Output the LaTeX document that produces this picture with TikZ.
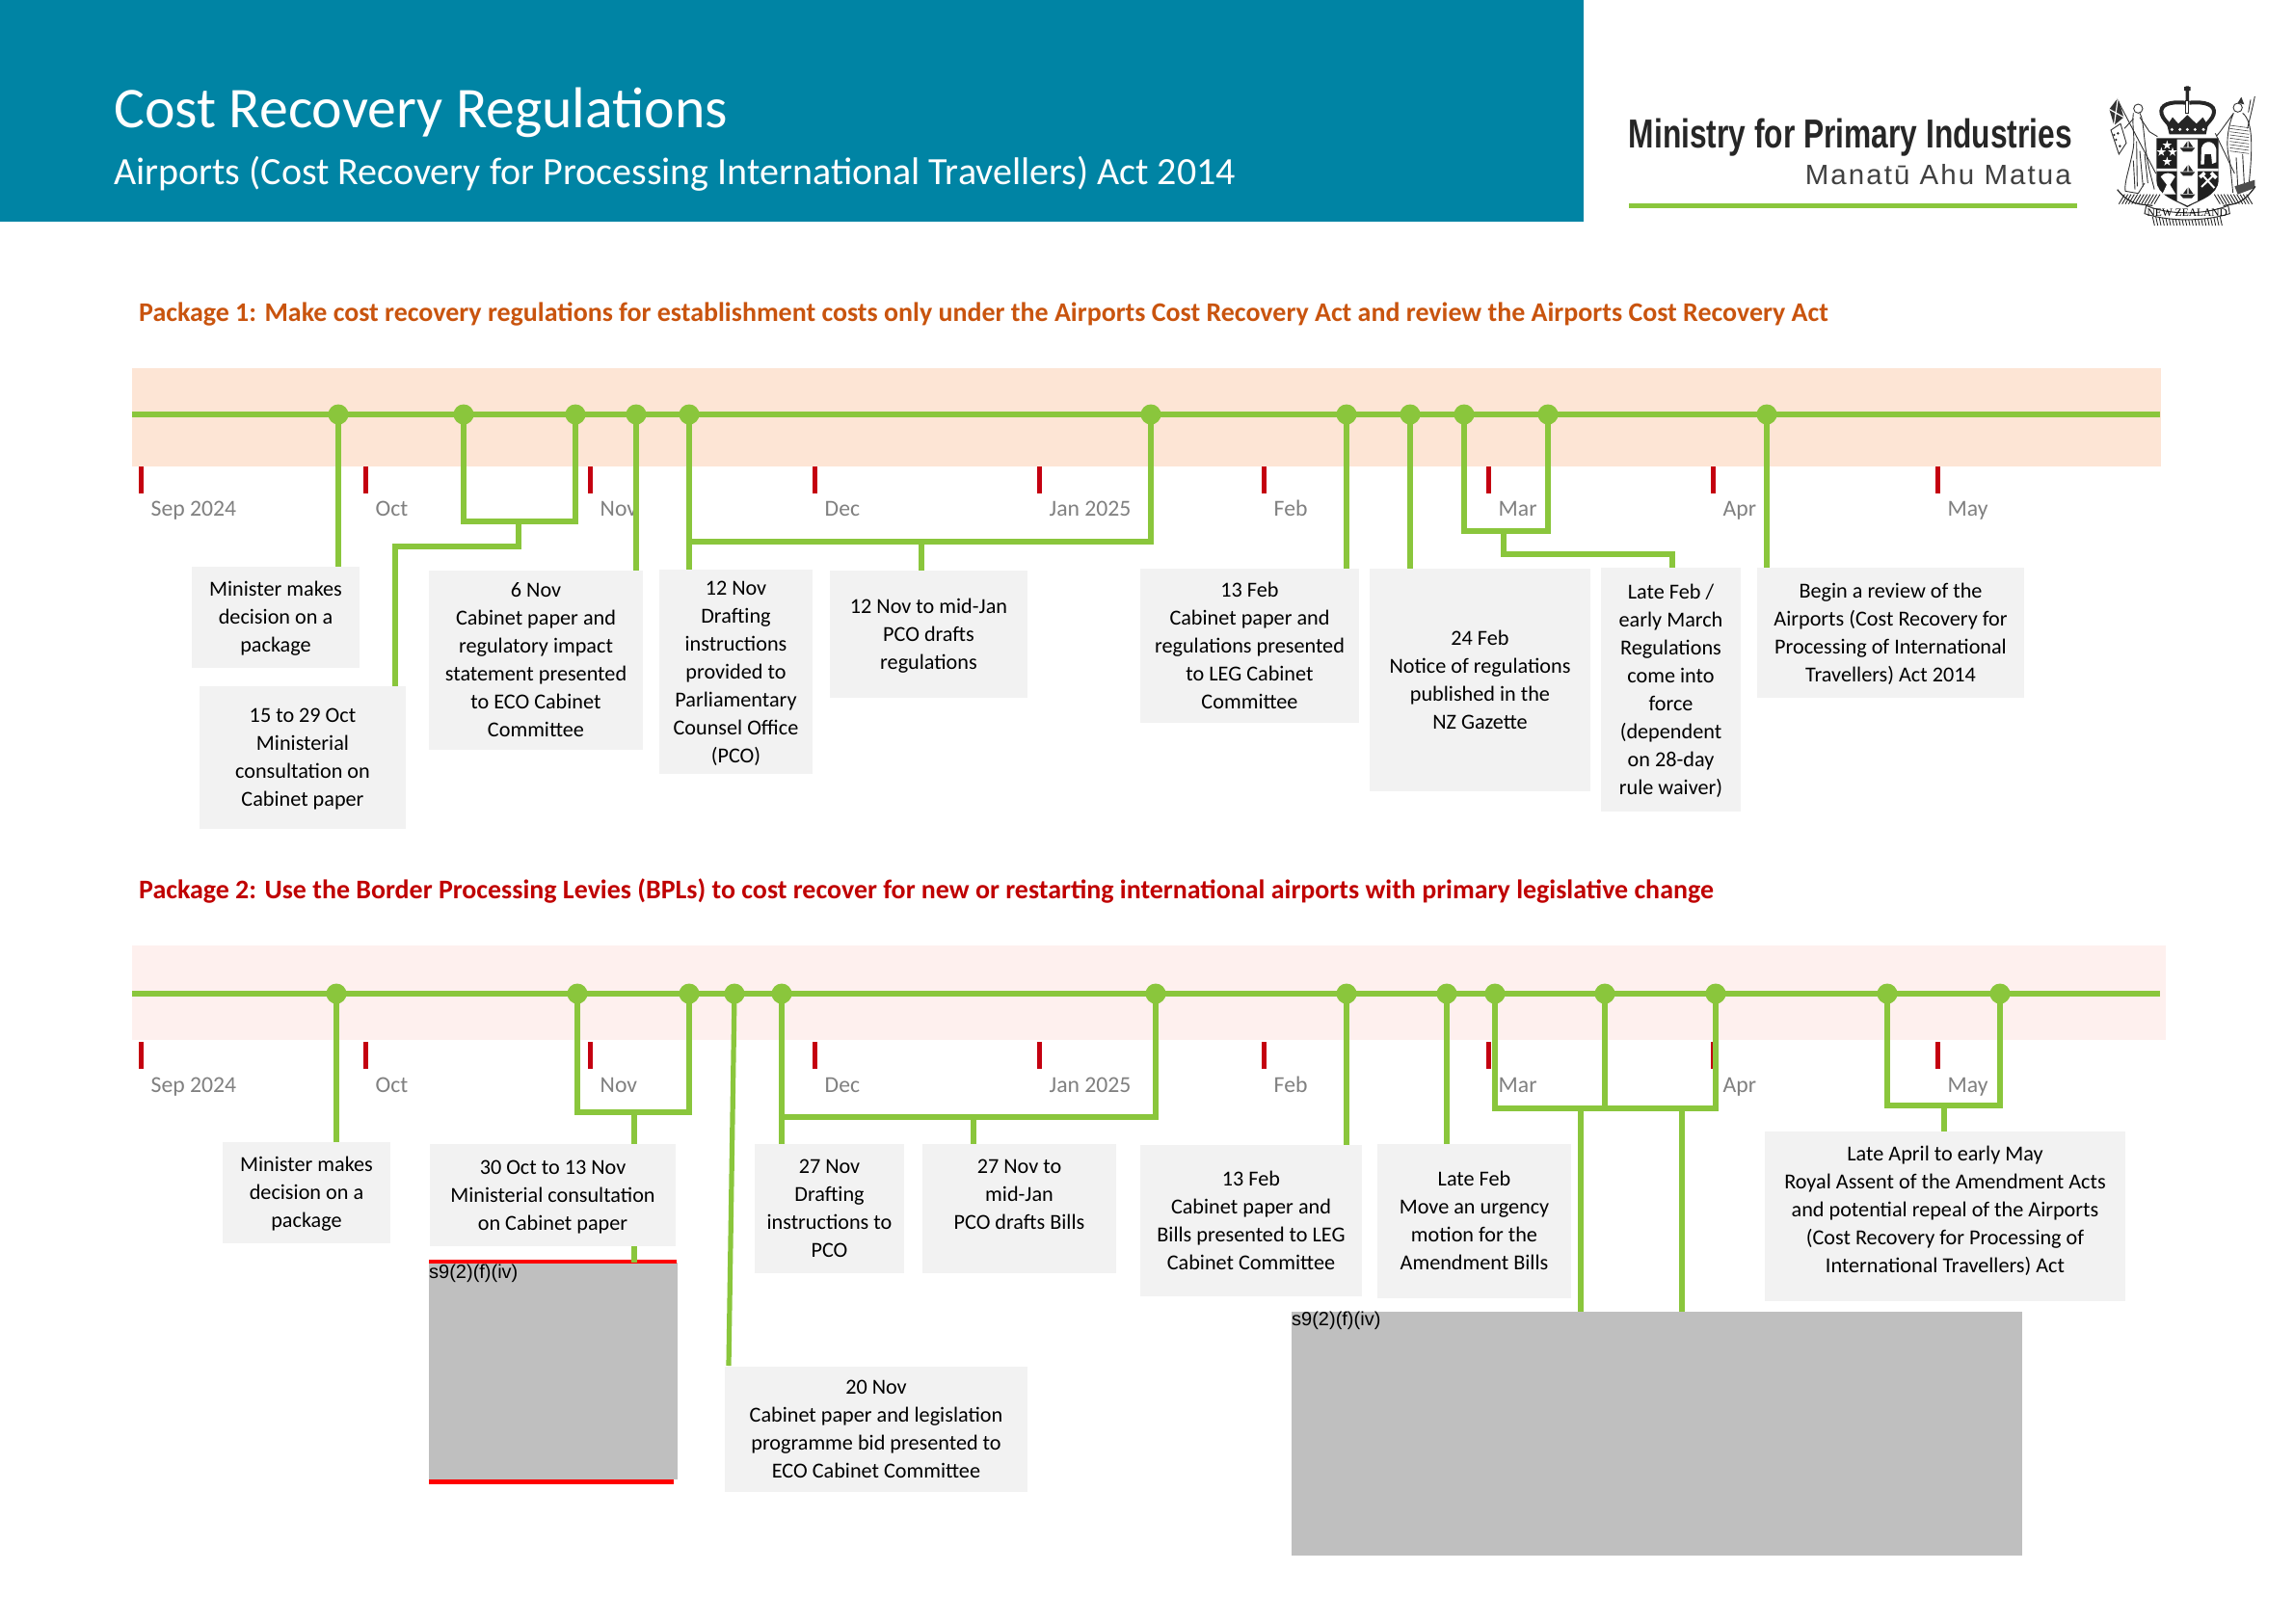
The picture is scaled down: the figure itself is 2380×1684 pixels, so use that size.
\documentclass[tikz,border=0pt]{standalone}
\usepackage{fontspec}
\usepackage{graphicx}
\setmainfont{Carlito}
\newfontfamily\arialfont{Liberation Sans}
\newfontfamily\manafont[LetterSpace=7]{Liberation Sans}
\newfontfamily\arimsfont{Liberation Serif}
\definecolor{teal}{HTML}{0084A4}
\definecolor{lime}{HTML}{8AC63C}
\definecolor{boxg}{HTML}{F2F2F2}
\definecolor{bandA}{HTML}{FDE5D5}
\definecolor{bandB}{HTML}{FEF0EE}
\definecolor{tick}{HTML}{C40010}
\definecolor{month}{HTML}{808080}
\definecolor{pkgA}{HTML}{C9540E}
\definecolor{pkgB}{HTML}{C00000}
\definecolor{redact}{HTML}{BFBFBF}
\tikzset{
  boxn/.style={fill=boxg,inner sep=0pt,align=center,text=black,font=\fontsize{22.2}{29}\selectfont},
  dotn/.style={circle,fill=lime,inner sep=0pt,minimum size=21pt},
  conn/.style={draw=lime,line width=5.2pt,line join=miter},
  tline/.style={draw=lime,line width=6.5pt},
  monthn/.style={anchor=base west,inner sep=0pt,text=month,font=\fontsize{23.7}{24}\selectfont},
  tickn/.style={fill=tick,inner sep=0pt,minimum width=5.5pt,minimum height=28pt},
  pkg/.style={anchor=base west,inner sep=0pt,font=\fontsize{27.95}{30}\selectfont\bfseries},
  redn/.style={fill=redact,inner sep=0pt},
  sect/.style={anchor=north west,inner sep=0pt,text=black,font=\arialfont\fontsize{20}{22}\selectfont},
  arm/.style={draw=black!80,line width=0.9pt,fill=none},
  armf/.style={fill=black!85,draw=none}
}
\newcommand{\gbox}[6]{%
  \pgfmathsetmacro\bw{#4-#2}\pgfmathsetmacro\bh{#5-#3}%
  \node[boxn,minimum width=\bw pt,minimum height=\bh pt] (#1) at ({(#2+#4)/2},{(#3+#5)/2}) {\rule{0pt}{23.3pt}#6\strut};}
\newcommand{\rbox}[5]{%
  \pgfmathsetmacro\bw{#4-#2}\pgfmathsetmacro\bh{#5-#3}%
  \node[redn,minimum width=\bw pt,minimum height=\bh pt] (#1) at ({(#2+#4)/2},{(#3+#5)/2}) {};}
\newcommand{\starp}[3]{\fill[white] (#1,#2) +(270:#3) -- +(54:#3) -- +(198:#3) -- +(342:#3) -- +(126:#3) -- cycle;}
\begin{document}
\begin{tikzpicture}[x=1pt,y=-1pt]
\useasboundingbox (0,0) rectangle (2380,1684);
\fill[white] (0,0) rectangle (2380,1684);
% header
\fill[teal] (0,0) rectangle (1643,230);
\node[anchor=base west,inner sep=0pt,text=white,font=\fontsize{59.8}{60}\selectfont] (title) at (118,132) {Cost Recovery Regulations};
\node[anchor=base west,inner sep=0pt,text=white,font=\fontsize{40}{42}\selectfont] (subtitle) at (118,191) {Airports (Cost Recovery for Processing International Travellers) Act 2014};
% logo
\node[anchor=east,inner sep=0pt,text=black!85] (mpi) at (2150,143) {\resizebox{460pt}{\height}{\arialfont\bfseries\fontsize{42}{44}\selectfont Ministry for Primary Industries}};
\node[anchor=east,inner sep=0pt,text=black!75] (mana) at (2149,181) {\resizebox{276pt}{\height}{\manafont\fontsize{29}{30}\selectfont Manatū Ahu Matua}};
\coordinate (lgA) at (1690,213); \coordinate (lgB) at (2155,213);
\draw[draw=lime,line width=5pt] (lgA) -- (lgB);
% coat of arms
\begin{scope}[shift={(2180,80)},x=0.3333pt,y=-0.3333pt]
  % crown
  \fill[black!85] (258,30) rectangle (278,42) (263,28) rectangle (273,72);
  \draw[armf] (262,72) rectangle (274,115);
  \fill[white] (265,76) rectangle (271,112);
  \draw[line width=4pt,black!85] (262,80) .. controls (215,75) and (180,85) .. (188,115) .. controls (192,130) and (205,140) .. (212,150)
     (274,80) .. controls (320,75) and (358,85) .. (350,115) .. controls (346,130) and (333,140) .. (326,150);
  \fill[black!85] (205,150) -- (222,125) -- (240,145) -- (268,118) -- (296,145) -- (316,125) -- (332,150) -- (326,178) -- (212,178) -- cycle;
  \foreach \cx in {220,245,268,292,318} {\fill[white] (\cx,163) circle (5);}
  % shield
  \fill[black!88] (172,190) -- (365,190) -- (365,320) .. controls (365,370) and (300,385) .. (268,405) .. controls (235,385) and (172,370) .. (172,320) -- cycle;
  \fill[white] (236,194) -- (300,194) -- (300,385) -- (268,400) -- (236,385) -- cycle;
  \fill[white] (172,285) rectangle (236,293) (300,285) rectangle (365,293);
  \starp{205}{212}{15} \starp{187}{233}{15} \starp{222}{233}{15} \starp{205}{263}{15}
  % fleece
  \fill[white] (312,220) .. controls (320,195) and (352,195) .. (358,225) -- (358,265) -- (345,270) -- (342,240) -- (322,240) -- (320,272) -- (310,272) -- cycle;
  % wheat
  \fill[white] (185,310) .. controls (195,295) and (220,295) .. (230,310) -- (214,335) -- (232,365) -- (190,365) -- (204,335) -- cycle;
  % hammers
  \draw[white,line width=2pt] (312,342) -- (350,305) (315,305) -- (352,345);
  \draw[white,line width=3.5pt] (342,298) -- (358,314) (307,312) -- (322,298);
  % ships
  \foreach \sy in {220,295,365} {
    \fill[black!85] (245,\sy) -- (292,\sy) -- (282,\sy+12) -- (255,\sy+12) -- cycle;
    \fill[black!85] (255,\sy-2) -- (268,\sy-20) -- (268,\sy-2) -- cycle (272,\sy-2) -- (272,\sy-22) -- (286,\sy-2) -- cycle;
  }
  % Zealandia
  \draw[arm] (115,98) circle (14);
  \draw[arm] (100,112) .. controls (95,150) and (105,180) .. (100,220) .. controls (90,280) and (70,330) .. (75,355) -- (115,362) -- (135,330) (120,112) .. controls (135,140) and (130,200) .. (150,290) .. controls (160,330) and (165,345) .. (165,350);
  \draw[arm] (120,125) -- (150,170) -- (175,185) (100,130) -- (72,160);
  \draw[arm] (100,260) -- (105,350) (120,230) -- (130,340) (110,200) -- (112,340) (135,240) -- (145,330);
  \draw[arm] (50,70) -- (170,300);
  \fill[black!80] (25,100) -- (52,65) -- (70,125) -- (40,150) -- cycle;
  \draw[white,line width=1.2pt] (25,100) -- (70,125) (52,65) -- (40,150);
  \draw[arm] (30,165) -- (60,145) -- (78,205) -- (55,240) -- cycle;
  \foreach \px/\py in {40/180,52/175,46/195,58/215} {\fill[black!85] (\px,\py) circle (4);}
  % Maori chief
  \draw[arm] (425,95) circle (14);
  \fill[black!80] (436,62) -- (445,85) -- (425,80) -- cycle;
  \draw[arm] (478,60) .. controls (470,100) and (462,130) .. (455,160) (465,70) -- (458,110);
  \draw[arm] (412,112) -- (370,170) -- (360,182) (412,112) .. controls (395,150) and (385,210) .. (400,260) -- (410,360) (440,112) .. controls (475,140) and (470,230) .. (460,330);
  \foreach \hy in {150,160,...,230} {\draw[black!70,line width=0.6pt] (400,\hy) -- (460,\hy+8);}
  \draw[arm] (355,175) -- (415,300) (420,250) -- (425,340) (440,240) -- (445,330);
  \fill[black!70] (415,340) -- (478,320) -- (478,345) -- (425,365) -- cycle;
  % fern fronds
  \foreach \fx in {55,65,...,165} {\draw[black!85,line width=0.9pt] (\fx,395) -- (\fx+18,365);}
  \foreach \fx in {370,380,...,470} {\draw[black!85,line width=0.9pt] (\fx,395) -- (\fx-18,365);}
  \foreach \fx in {160,170,...,370} {\draw[black!85,line width=0.9pt] (\fx,435) -- (\fx+6,462);}
  \draw[black!85,line width=1.2pt] (50,350) .. controls (90,400) and (120,395) .. (160,400) (480,340) .. controls (440,395) and (420,395) .. (380,400);
  % banner
  \draw[arm,fill=white,line width=1pt] (140,400) .. controls (210,430) and (320,430) .. (395,400) -- (400,425) .. controls (320,450) and (210,450) .. (135,425) -- cycle;
  \node[inner sep=0pt,text=black,font=\arimsfont\fontsize{11.5}{12}\selectfont] (nz) at (268,421) {NEW ZEALAND};
\end{scope}
% package headings
\node[pkg,text=pkgA] (pk1) at (144,333) {Package 1: Make cost recovery regulations for establishment costs only under the Airports Cost Recovery Act and review the Airports Cost Recovery Act};
\node[pkg,text=pkgB] (pk2) at (144,932) {Package 2: Use the Border Processing Levies (BPLs) to cost recover for new or restarting international airports with primary legislative change};
% bands
\fill[bandA] (137,382) rectangle (2242,484);
\fill[bandB] (137,981) rectangle (2247,1079);
% ticks + month labels
\foreach \i/\tx/\mn in {1/146.5/Sep 2024,2/379.5/Oct,3/612.5/Nov,4/845.5/Dec,5/1078.5/Jan 2025,6/1311.5/Feb,7/1544.5/Mar,8/1777.5/Apr,9/2010.5/May} {
  \node[tickn] (ta\i) at (\tx,498) {};
  \node[monthn] (ma\i) at (\tx+10,535) {\mn};
  \node[tickn] (tb\i) at (\tx,1095) {};
  \node[monthn] (mb\i) at (\tx+10,1133) {\mn};
}
% timelines
\coordinate (aS) at (137,430); \coordinate (aE) at (2241,430);
\coordinate (bS) at (137,1031); \coordinate (bE) at (2241,1031);
\draw[tline] (aS) -- (aE);
\draw[tline] (bS) -- (bE);
% package 1 dots
\foreach \i/\dx in {1/351,2/481,3/597,4/660,5/715,6/1194,7/1397,8/1463,9/1519,10/1606,11/1833} {\node[dotn] (a\i) at (\dx,430) {};}
% package 2 dots
\foreach \i/\dx in {1/349,2/599,3/715,4/762,5/811,6/1199,7/1397,8/1501,9/1551,10/1665,11/1780,12/1958,13/2075} {\node[dotn] (b\i) at (\dx,1031) {};}
% package 1 boxes
\gbox{pa1}{199}{588}{373}{693}{Minister makes\\decision on a\\package}
\gbox{pa2}{207}{712}{421}{860}{15 to 29 Oct\\Ministerial\\consultation on\\Cabinet paper}
\gbox{pa3}{445}{592}{667}{778}{6 Nov\\Cabinet paper and\\regulatory impact\\statement presented\\to ECO Cabinet\\Committee}
\gbox{pa4}{684}{591}{843}{803}{12 Nov\\Drafting\\instructions\\provided to\\Parliamentary\\Counsel Office\\(PCO)}
\gbox{pa5}{861}{592}{1066}{724}{12 Nov to mid-Jan\\PCO drafts\\regulations}
\gbox{pa6}{1183}{590}{1410}{750}{13 Feb\\Cabinet paper and\\regulations presented\\to LEG Cabinet\\Committee}
\gbox{pa7}{1421}{590}{1650}{821}{24 Feb\\Notice of regulations\\published in the\\NZ Gazette}
\gbox{pa8}{1661}{589}{1806}{842}{Late Feb /\\early March\\Regulations\\come into\\force\\(dependent\\on 28-day\\rule waiver)}
\gbox{pa9}{1823}{589}{2100}{724}{Begin a review of the\\Airports (Cost Recovery for\\Processing of International\\Travellers) Act 2014}
% package 2 boxes
\gbox{pb1}{231}{1185}{405}{1290}{Minister makes\\decision on a\\package}
\gbox{pb2}{446}{1187}{701}{1293}{30 Oct to 13 Nov\\Ministerial consultation\\on Cabinet paper}
\gbox{pb3}{783}{1187}{938}{1321}{27 Nov\\Drafting\\instructions to\\PCO}
\gbox{pb4}{957}{1187}{1158}{1321}{27 Nov to\\mid-Jan\\PCO drafts Bills\\\mbox{}}
\gbox{pb5}{1183}{1188}{1413}{1345}{13 Feb\\Cabinet paper and\\Bills presented to LEG\\Cabinet Committee}
\gbox{pb6}{1429}{1187}{1630}{1347}{Late Feb\\Move an urgency\\motion for the\\Amendment Bills}
\gbox{pb7}{1831}{1174}{2205}{1350}{Late April to early May\\Royal Assent of the Amendment Acts\\and potential repeal of the Airports\\(Cost Recovery for Processing of\\International Travellers) Act\\[-15pt]\mbox{}}
\gbox{pb8}{752}{1418}{1066}{1548}{20 Nov\\Cabinet paper and legislation\\programme bid presented to\\ECO Cabinet Committee}
% redactions
\rbox{ga}{445}{1310}{703}{1535}
\rbox{gb}{1340}{1361}{2098}{1614}
\coordinate (rtA) at (445,1309); \coordinate (rtB) at (702,1309);
\coordinate (rbA) at (445,1537); \coordinate (rbB) at (699,1537);
\draw[red,line width=3.5pt] (rtA) -- (rtB);
\draw[red,line width=5pt] (rbA) -- (rbB);
\node[sect] (sa) at (445,1312) {s9(2)(f)(iv)};
\node[sect] (sb) at (1340,1361) {s9(2)(f)(iv)};
% package 1 connectors
\draw[conn] (a1.center) -- (a1.center |- pa1.north);
\coordinate (ja1) at (538,541); \coordinate (ja2) at (410,567);
\draw[conn] (a2.center) |- (ja1) -| (a3.center);
\draw[conn] (ja1) |- (ja2) -- (ja2 |- pa2.north);
\draw[conn] (a4.center) -- (a4.center |- pa3.north);
\draw[conn] (a5.center) -- (a5.center |- pa4.north);
\coordinate (ja3) at (956,562);
\draw[conn] (a5.center |- ja3) -- (ja3) -| (a6.center);
\draw[conn] (ja3) -- (ja3 |- pa5.north);
\draw[conn] (a7.center) -- (a7.center |- pa6.north);
\draw[conn] (a8.center) -- (a8.center |- pa7.north);
\coordinate (ja4) at (1560,551); \coordinate (ja5) at (1735,575);
\draw[conn] (a9.center) |- (ja4) -| (a10.center);
\draw[conn] (ja4) |- (ja5) -- (ja5 |- pa8.north);
\draw[conn] (a11.center) -- (a11.center |- pa9.north);
% package 2 connectors
\draw[conn] (b1.center) -- (b1.center |- pb1.north);
\coordinate (jb1) at (658,1154);
\draw[conn] (b2.center) |- (jb1) -| (b3.center);
\draw[conn] (jb1) -- (jb1 |- pb2.north);
\draw[conn] (jb1 |- pb2.south) -- (jb1 |- ga.north);
\coordinate (jb2) at (756,1417);
\draw[conn] (b4.center) -- (jb2);
\coordinate (jb3) at (1010,1159);
\draw[conn] (b5.center) -- (b5.center |- pb3.north);
\draw[conn] (b5.center |- jb3) -- (jb3) -| (b6.center);
\draw[conn] (jb3) -- (jb3 |- pb4.north);
\draw[conn] (b7.center) -- (b7.center |- pb5.north);
\draw[conn] (b8.center) -- (b8.center |- pb6.north);
\coordinate (jb4) at (1665,1150); \coordinate (jb5) at (1640,1150); \coordinate (jb6) at (1745,1150);
\draw[conn] (b9.center) |- (jb4) -| (b11.center);
\draw[conn] (b10.center) -- (jb4);
\draw[conn] (jb5) -- (jb5 |- gb.north);
\draw[conn] (jb6) -- (jb6 |- gb.north);
\coordinate (jb7) at (2017,1147);
\draw[conn] (b12.center) |- (jb7) -| (b13.center);
\draw[conn] (jb7) -- (jb7 |- pb7.north);
\end{tikzpicture}
\end{document}
